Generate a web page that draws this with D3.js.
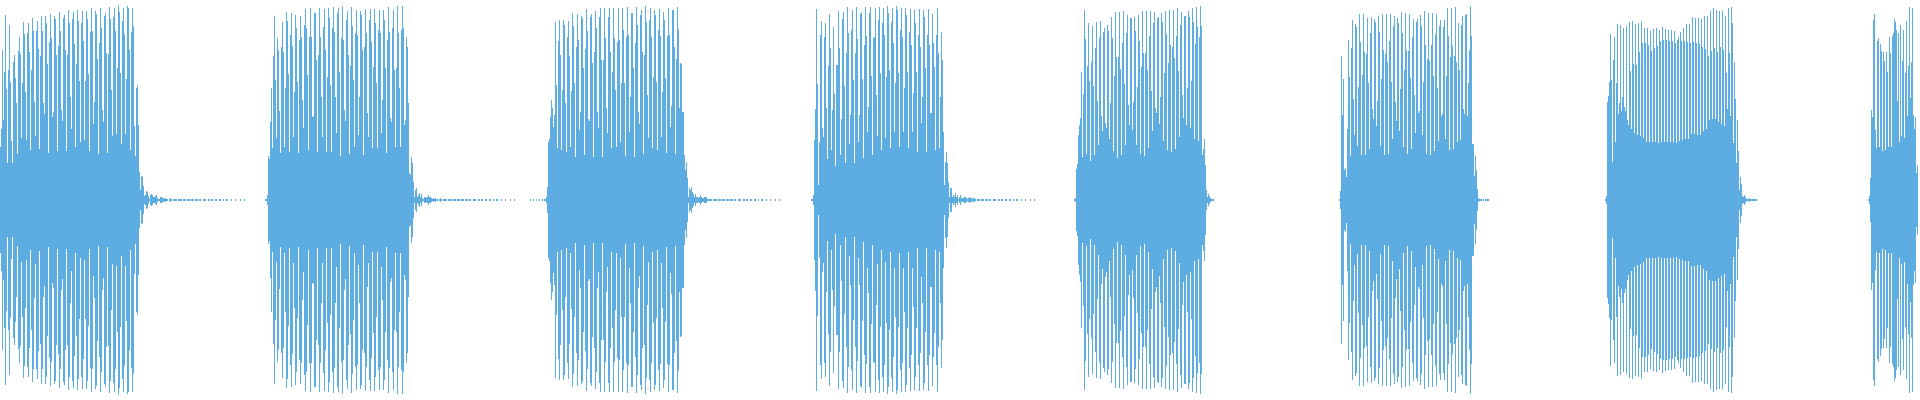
<!DOCTYPE html>
<html>
<head>
<meta charset="utf-8">
<script src="https://cdn.jsdelivr.net/npm/d3@7"></script>
<style>
  html, body { margin: 0; padding: 0; background: #fff; }
  svg { display: block; }
</style>
</head>
<body>
<div id="wave"></div>
<script>
/* waveform — peak amplitude per time step, mirrored around zero */

const BAR_COLOR = "#5dade2";

// time step at which each burst starts
const burstStarts = [0, 265, 530, 811, 1074, 1339, 1605, 1868];

const burst1 = [53,71,150,80,128,185,111,37,130,175,118,59,37,138,145,122,97,46,149,163,146,62,117,178,166,108,60,167,177,148,50,130,182,169,98,64,169,179,151,51,144,184,169,97,86,184,177,136,47,158,186,162,83,88,184,181,145,49,154,188,169,90,79,182,185,150,49,145,190,177,103,71,181,188,156,53,136,190,179,119,58,177,189,159,60,119,189,181,126,49,168,192,169,76,98,189,186,141,46,157,192,172,90,78,184,187,147,47,146,193,181,110,64,183,192,169,66,132,195,188,127,56,179,192,166,66,121,194,192,150,50,168,192,174,74,44,112,115,75,28,10,24,23,14,4,5,9,8,4,1,5,6,5,3,3,4,5,2,1,1,3,3,2];
const burst2 = [1,1,5,44,41,78,112,52,144,184,120,62,162,150,89,47,153,178,148,53,112,188,179,126,48,165,187,154,63,108,185,172,118,47,160,184,163,100,72,175,191,172,125,50,163,192,163,83,84,187,187,140,48,145,192,163,103,63,173,191,150,48,123,192,182,115,48,172,193,168,103,67,187,192,128,44,162,194,160,90,79,180,189,145,46,134,193,174,120,53,167,190,165,65,103,189,185,150,45,153,191,167,87,63,180,191,158,52,133,191,177,117,52,170,190,167,67,100,190,180,132,47,160,193,168,82,78,172,190,130,53,132,194,167,112,53,170,194,172,75,80,163,153,97,27,25,43,37,18,3,10,12,3,5,7,3,6,2,1,3,3,2,3,5,3,3,2,1];
const burst3 = [1,0,0,1,0,0,1,0,0,1,0,0,1,0,1,1,3,13,58,61,83,100,92,73,85,178,115,52,159,180,145,50,110,180,175,97,48,163,179,144,53,109,187,174,117,43,153,186,160,70,88,184,182,132,45,151,191,169,81,79,183,186,137,43,148,189,172,88,72,183,192,140,43,140,192,162,92,67,183,192,148,52,128,192,162,110,53,158,192,160,58,117,192,170,117,44,163,193,165,68,103,187,187,132,43,157,193,175,88,76,185,190,148,46,145,194,178,105,62,180,192,163,52,123,190,185,118,50,170,191,164,63,108,188,180,122,47,164,192,165,73,94,190,190,153,46,141,193,171,92,137,136,88,88,45,30,38,22,3,12,10,13,8,6,3,6,3,3,2,3,5,3,2,2,3,3,3,1,1];
const burst4 = [1,1,5,60,91,191,116,15,58,165,179,72,63,163,177,92,41,134,186,152,50,90,173,106,34,135,135,189,152,45,81,181,188,114,37,147,193,167,56,85,170,190,120,37,147,193,161,58,85,186,188,121,42,155,193,164,68,93,187,193,124,45,162,163,192,105,64,180,193,127,50,177,192,165,62,123,194,187,130,52,178,192,157,68,117,194,190,127,53,170,192,163,68,112,192,185,128,52,168,191,155,68,107,190,177,128,48,165,191,153,77,103,190,183,132,48,165,191,155,87,87,186,157,133,50,165,192,147,52,103,168,140,68,15,38,48,37,18,3,12,12,3,5,3,7,3,5,1,3,5,2,2,2,3,3,2,1,2,3,2,2,1,2,2];
const burst5 = [1,2,31,36,65,75,82,128,43,106,190,161,46,134,177,119,39,138,174,114,45,152,178,99,55,162,179,84,69,168,172,77,72,175,169,61,97,183,162,49,124,188,143,42,143,188,131,45,157,189,116,55,167,185,95,75,182,182,70,98,183,169,55,113,185,159,46,133,189,147,44,147,189,130,52,164,189,109,69,177,188,92,87,182,183,76,103,187,178,59,127,189,166,50,137,190,155,48,153,190,142,51,164,192,129,63,175,188,105,82,184,184,75,112,189,183,72,119,192,178,61,156,193,173,59,163,194,174,45,51,61,35,10,3,6,4,2,1,1,1];
const burst6 = [1,9,144,85,121,30,32,23,71,160,123,44,152,180,101,65,176,173,54,113,186,158,45,125,186,148,45,146,182,117,51,167,183,91,81,181,178,74,99,184,168,54,121,186,150,45,146,186,138,46,159,186,118,61,174,184,98,79,182,177,69,111,188,167,53,130,187,150,46,149,186,122,51,163,181,105,67,178,181,87,89,185,174,65,118,189,155,46,141,187,139,45,155,187,124,49,166,186,112,59,174,180,84,86,173,180,61,124,192,164,50,143,192,154,51,144,193,138,58,177,130,60,175,184,91,86,185,186,84,117,150,194,164,56,56,24,44,30,11,2,1,1,1,0,1,0,1,1,1,1];
const burst7 = [1,4,98,104,118,166,120,38,140,163,58,117,176,86,97,175,89,103,172,93,89,174,80,75,178,129,71,179,136,67,176,135,65,177,148,64,179,157,62,172,157,58,172,155,58,169,149,58,171,152,58,172,154,57,170,159,58,173,160,58,171,160,58,170,159,58,170,159,58,169,157,57,160,163,59,168,159,60,172,159,61,176,158,61,176,157,66,183,158,66,182,157,65,182,156,65,181,153,69,184,151,71,184,144,80,189,149,81,192,152,81,190,148,78,189,153,76,189,150,74,184,127,91,192,147,84,193,177,57,138,101,37,80,49,10,23,16,4,3,5,3,1,1,1,2,1,1,1,1,1,1,1];
const burst8 = [1,4,22,90,83,180,186,70,52,159,162,53,156,149,49,148,139,50,148,128,53,163,147,53,164,167,181,178,170,99,167,58,175,64,139,170,62,127,179,84,134,193,102,138,192,85,71,83,27,35];

// low-level noise after a burst, one or two rows around zero
const dashTail = [2,1,2,1,1,0,1,2,1,0,1,1,1,1,0,1,1,1,1,0,1,1,1,0,1,1,1,0,1,1,1,0,1,1,1,0,1,1,0,0,1,1,1,0,0,1,1,0,1,1,0,0,1,1,0,0,1,1,0,0,1,0,0,1,1,0,0,0,1,0,0,0,1,0,0,0,0,1,0,0,0,1];
const tailLengths = [82, 82, 71, 60, 0, 0, 0, 0];

const bursts = [burst1, burst2, burst3, burst4, burst5, burst6, burst7, burst8];

const W = 1920, H = 400;

const x = d3.scaleLinear().domain([0, W]).range([0, W]);
const y = d3.scaleLinear().domain([-200, 200]).range([H, 0]);

// Flatten bursts into time steps
const samples = bursts.flatMap((b, k) => {
  const n = tailLengths[k];
  const vals = n ? b.concat(dashTail.slice(-n)) : b;
  return vals.map((amp, i) => ({ t: burstStarts[k] + i, amp }));
}).filter(d => d.amp > 0 && d.t < W);

const svg = d3.select("#wave").append("svg")
  .attr("width", W).attr("height", H);

svg.append("g").selectAll("rect")
  .data(samples).join("rect")
  .attr("x", d => x(d.t))
  .attr("width", 1)
  .attr("y", d => y(d.amp))
  .attr("height", d => y(-d.amp) - y(d.amp))
  .attr("fill", BAR_COLOR)
  .attr("shape-rendering", "crispEdges");
</script>
</body>
</html>
